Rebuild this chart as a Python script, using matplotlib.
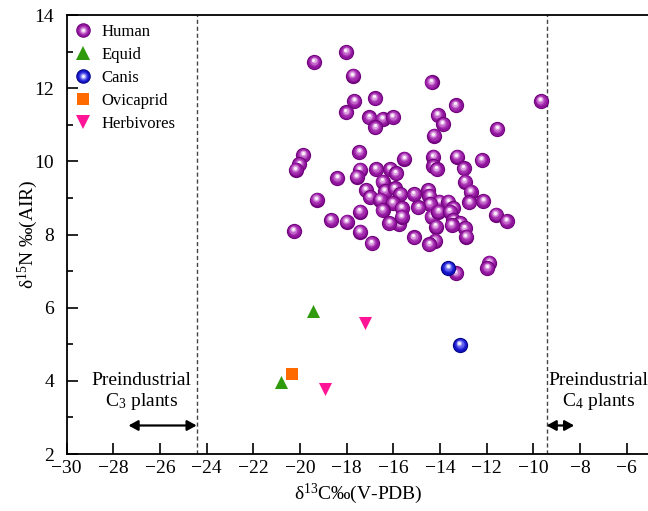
import numpy as np
import matplotlib
matplotlib.use("Agg")
import matplotlib.pyplot as plt
from matplotlib.lines import Line2D
from matplotlib.legend_handler import HandlerTuple
from matplotlib.transforms import offset_copy

plt.rcParams['font.family'] = ['Liberation Serif', 'DejaVu Serif']
plt.rcParams['mathtext.fontset'] = 'custom'
plt.rcParams['mathtext.rm'] = 'Liberation Serif'
plt.rcParams['mathtext.it'] = 'Liberation Serif:italic'

# ---- data ----
human_c = [-19.39, -18.02, -17.73, -14.36, -17.67, -16.79, -18.02, -17.03, -16.46, -16.01,
           -16.77, -14.10, -13.87, -13.33, -14.26, -11.54, -9.67,
           -19.86, -20.03, -20.18, -17.46, -15.53, -14.29, -14.29, -14.14, -13.27, -12.98, -12.21,
           -17.43, -17.57, -16.74, -16.14, -15.89, -16.46, -17.17, -17.00, -16.36, -15.93,
           -15.71, -16.57, -16.03, -15.11, -14.50, -14.46, -14.03, -14.43, -13.64, -13.43,
           -12.93, -12.68, -12.74, -12.14, -17.43, -16.46, -15.64, -14.93, -15.74, -16.17,
           -15.64, -14.36, -14.07, -13.57, -13.43, -13.14, -12.93, -14.17, -13.50, -17.43,
           -16.93, -15.11, -14.21, -14.46, -12.88,
           -18.40, -19.28, -11.60, -11.14, -18.67, -18.00, -20.26,
           -13.31, -11.89, -11.97]
human_n = [12.71, 12.99, 12.34, 12.16, 11.65, 11.72, 11.34, 11.20, 11.16, 11.21,
           10.93, 11.26, 11.02, 11.53, 10.70, 10.88, 11.65,
           10.17, 9.92, 9.77, 10.25, 10.07, 10.13, 9.87, 9.78, 10.13, 9.81, 10.04,
           9.77, 9.58, 9.79, 9.79, 9.67, 9.45, 9.22, 9.02, 9.19, 9.26,
           9.10, 8.95, 8.86, 9.10, 9.22, 9.06, 8.90, 8.83, 8.90, 8.72,
           9.45, 9.17, 8.88, 8.92, 8.63, 8.67, 8.72, 8.74, 8.28, 8.31,
           8.49, 8.49, 8.63, 8.63, 8.40, 8.31, 8.17, 8.22, 8.26, 8.08,
           7.76, 7.92, 7.83, 7.73, 7.94,
           9.54, 8.95, 8.54, 8.37, 8.40, 8.35, 8.10,
           6.94, 7.23, 7.08]

equid_c = [-19.45, -20.83]
equid_n = [5.90, 3.98]
canis_c = [-13.64, -13.14]
canis_n = [7.08, 4.98]
ovi_c = [-20.33]
ovi_n = [4.18]
herb_c = [-17.21, -18.93]
herb_n = [5.59, 3.78]

c3_line = -24.43
c4_line = -9.43

# shading layers (colour, size fraction, dx, dy in points) for the glossy balls
human_shades = [('#6e037a', 1.0, 0, 0), ('#8d149a', 0.88, -0.1, 0.25), ('#a42cae', 0.7, -0.25, 0.6),
                ('#c263c9', 0.52, -0.4, 1.0), ('#dfa6e3', 0.36, -0.5, 1.3),
                ('#fbf2fc', 0.2, -0.55, 1.5)]
canis_shades = [('#04047f', 1.0, 0, 0), ('#1212c0', 0.88, -0.1, 0.25), ('#2c2cdc', 0.7, -0.25, 0.6),
                ('#6060ec', 0.52, -0.4, 1.0), ('#a8a8f6', 0.36, -0.5, 1.3),
                ('#f2f2ff', 0.2, -0.55, 1.5)]

fig = plt.figure(figsize=(6.48, 5.11), dpi=100)
ax = fig.add_axes([0.1029, 0.1115, 0.9002, 0.859])


def ball(x, y, shades, size, z):
    for col, f, dx, dy in shades:
        tr = offset_copy(ax.transData, fig=fig, x=dx, y=dy, units='points')
        ax.scatter([x], [y], s=(size * f) ** 2, color=col, linewidths=0,
                   transform=tr, zorder=z)


z = 3
for xx, yy in zip(human_c, human_n):
    ball(xx, yy, human_shades, 11, z)
    z += 0.01
for xx, yy in zip(canis_c, canis_n):
    ball(xx, yy, canis_shades, 11, z)
    z += 0.01

ax.scatter(equid_c, equid_n, marker='^', s=9.4 ** 2, color='#2f9a0c', linewidths=0, zorder=3)
ax.scatter(ovi_c, ovi_n, marker='s', s=8.6 ** 2, color='#ff6a00', linewidths=0, zorder=3)
ax.scatter(herb_c, herb_n, marker='v', s=9.4 ** 2, color='#ff1496', linewidths=0, zorder=3)

ax.axvline(c3_line, color='#444444', lw=1, ls=(0, (3, 2)), zorder=1)
ax.axvline(c4_line, color='#444444', lw=1, ls=(0, (3, 2)), zorder=1)

arrow = dict(arrowstyle='<|-|>,head_length=0.4,head_width=0.22', color='black',
             lw=1.6, shrinkA=0, shrinkB=0, mutation_scale=14)
ax.annotate('', xy=(c3_line, 2.78), xytext=(-27.35, 2.78), arrowprops=arrow)
ax.annotate('', xy=(-8.25, 2.78), xytext=(c4_line, 2.78), arrowprops=arrow)
ax.text(-26.8, 4.0, 'Preindustrial', ha='center', va='center', fontsize=14)
ax.text(-26.8, 3.43, r'C$_{\mathrm{3}}$ plants', ha='center', va='center', fontsize=14)
ax.text(-7.2, 4.0, 'Preindustrial', ha='center', va='center', fontsize=14)
ax.text(-7.2, 3.43, r'C$_{\mathrm{4}}$ plants', ha='center', va='center', fontsize=14)

ax.set_xlim(-30, -5)
ax.set_ylim(2, 14)
ax.set_xticks(np.arange(-30, -5, 2))
ax.set_yticks(np.arange(2, 15, 2))
ax.set_yticks(np.arange(3, 14, 2), minor=True)
ax.tick_params(axis='both', which='major', direction='in', length=8, width=1.2, labelsize=14)
ax.tick_params(axis='y', which='major', pad=9)
ax.tick_params(axis='x', which='major', pad=4)
ax.tick_params(axis='y', which='minor', direction='in', length=4.5, width=1.2)
for sp in ax.spines.values():
    sp.set_linewidth(1.3)

ax.set_xlabel(r'δ$^{\mathrm{13}}$C‰(V-PDB)', fontsize=14, labelpad=4)
ax.set_ylabel(r'δ$^{\mathrm{15}}$N ‰(AIR)', fontsize=14, labelpad=-4)

# legend
h_human = tuple(Line2D([], [], marker='o', ls='none', ms=10.5 * f, color=c, mew=0)
                for c, f, dx, dy in human_shades)
h_canis = tuple(Line2D([], [], marker='o', ls='none', ms=10.5 * f, color=c, mew=0)
                for c, f, dx, dy in canis_shades)
h_equid = Line2D([], [], marker='^', ls='none', ms=9.4, color='#2f9a0c', mew=0)
h_ovi = Line2D([], [], marker='s', ls='none', ms=8.6, color='#ff6a00', mew=0)
h_herb = Line2D([], [], marker='v', ls='none', ms=9.4, color='#ff1496', mew=0)
ax.legend([h_human, h_equid, h_canis, h_ovi, h_herb],
          ['Human', 'Equid', 'Canis', 'Ovicaprid', 'Herbivores'],
          handler_map={tuple: HandlerTuple(ndivide=1, pad=0)},
          loc='upper left', frameon=False, fontsize=12, labelspacing=0.42,
          handlelength=0.8, handletextpad=0.75, borderpad=0.2, borderaxespad=0.35)

fig.savefig('out.png', dpi=100)
